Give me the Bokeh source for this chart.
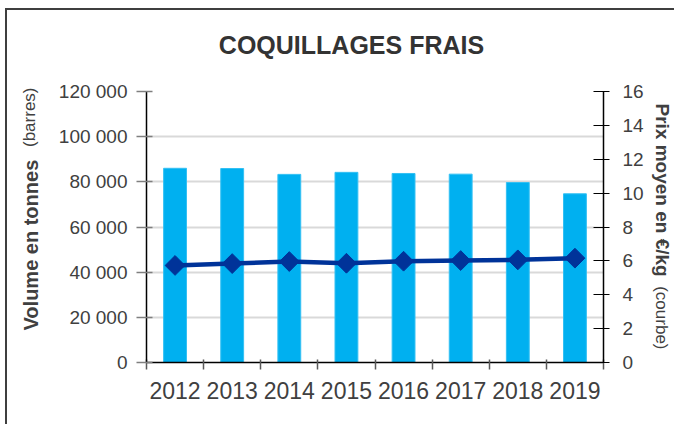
import math
from bokeh.plotting import figure
from bokeh.models import Range1d, LinearAxis, FixedTicker, Label, ColumnDataSource
from bokeh.embed import file_html
from bokeh.resources import INLINE

# ---- data ----
title_text = "COQUILLAGES FRAIS"
years = ["2012", "2013", "2014", "2015", "2016", "2017", "2018", "2019"]
volumes = [86000, 85900, 83300, 84200, 83700, 83400, 79700, 74700]
prices = [5.73, 5.84, 5.96, 5.86, 5.98, 6.02, 6.06, 6.16]
left_ticks = [0, 20000, 40000, 60000, 80000, 100000, 120000]
left_tick_labels = ["0", "20 000", "40 000", "60 000", "80 000", "100 000", "120 000"]
right_ticks = [0, 2, 4, 6, 8, 10, 12, 14, 16]
left_label_bold = "Volume en tonnes"
left_label_regular = "(barres)"
right_label_bold = "Prix moyen en €/kg"
right_label_regular = "(courbe)"

# ---- layout ----
W, H = 674, 424
FL, FT, FW, FH = 146, 91, 457, 271
VMAX, PMAX = 120000, 16
N = len(years)
FONT = "Liberation Sans"
TXT = "#404040"


def xd(px):
    return (px - FL) / FW * N


def yd(py):
    return (FT + FH - py) / FH * VMAX


p = figure(width=W, height=H, output_backend="svg", toolbar_location=None,
           x_range=Range1d(0, N), y_range=Range1d(0, VMAX),
           min_border_left=FL, min_border_top=FT,
           min_border_right=W - FL - FW, min_border_bottom=H - FT - FH)
p.extra_y_ranges = {"price": Range1d(0, PMAX)}
p.outline_line_color = None
p.background_fill_color = "white"
p.border_fill_color = None
p.styles = {"box-shadow": "inset 5px 0 0 0 white, inset 0 8px 0 0 white, "
                          "inset 7px 0 0 0 #3f3f3f, inset 0 10px 0 0 #3f3f3f"}

xs = [i + 0.5 for i in range(N)]
src = ColumnDataSource(dict(x=xs, vol=volumes, price=prices))

p.vbar(x="x", top="vol", width=0.4, source=src, fill_color="#00B0F0", line_color="#33C0F3", line_width=1)
p.line(x="x", y="price", source=src, y_range_name="price", line_color="#003399", line_width=4.5)
p.scatter(x="x", y="price", source=src, y_range_name="price", marker="square", angle=math.pi / 4,
          size=14, fill_color="#003399", line_color="#003399")

# grid
p.xgrid.visible = False
p.ygrid.ticker = FixedTicker(ticks=left_ticks)
p.ygrid.grid_line_color = "#d9d9d9"
p.ygrid.grid_line_width = 2

# x axis
xa = p.xaxis[0]
xa.ticker = FixedTicker(ticks=xs, minor_ticks=list(range(N + 1)))
xa.major_label_overrides = {x: y for x, y in zip(xs, years)}
xa.major_tick_in = 0
xa.major_tick_out = 0
xa.minor_tick_in = 3
xa.minor_tick_out = 7
xa.minor_tick_line_color = "#595959"
xa.minor_tick_line_width = 1.5
xa.axis_line_color = "black"
xa.axis_line_width = 1.5
xa.major_label_standoff = 12
xa.major_label_text_font = FONT
xa.major_label_text_font_size = "23px"
xa.major_label_text_color = TXT

# left axis
ya = p.yaxis[0]
ya.ticker = FixedTicker(ticks=left_ticks)
ya.major_label_overrides = {t: l for t, l in zip(left_ticks, left_tick_labels)}
ya.major_tick_in = 6
ya.major_tick_out = 10
ya.major_tick_line_color = "#7f7f7f"
ya.major_tick_line_width = 1.5
ya.minor_tick_line_color = None
ya.axis_line_color = "black"
ya.axis_line_width = 1.5
ya.major_label_standoff = 9
ya.major_label_text_font = FONT
ya.major_label_text_font_size = "19px"
ya.major_label_text_color = TXT

# right axis
ra = LinearAxis(y_range_name="price", ticker=FixedTicker(ticks=right_ticks))
ra.major_tick_in = 10
ra.major_tick_out = 6
ra.major_tick_line_color = "black"
ra.major_tick_line_width = 1.2
ra.minor_tick_line_color = None
ra.axis_line_color = "black"
ra.axis_line_width = 1.5
ra.major_label_standoff = 13
ra.major_label_text_font = FONT
ra.major_label_text_font_size = "19px"
ra.major_label_text_color = TXT
p.add_layout(ra, "right")

# title (label placed in the top panel so it is not clipped)
p.add_layout(Label(x=xd(351), y=yd(44), text=title_text, text_font=FONT, text_font_style="bold",
                   text_font_size="25px", text_color="#333333", text_align="center",
                   text_baseline="middle"), "above")

# left axis title (bold + regular)
p.add_layout(Label(x=xd(30), y=yd(330), text=left_label_bold, angle=math.pi / 2, text_font=FONT,
                   text_font_style="bold", text_font_size="20px", text_color=TXT,
                   text_align="left", text_baseline="alphabetic"), "left")
p.add_layout(Label(x=xd(29), y=yd(87), text=left_label_regular, angle=math.pi / 2, text_font=FONT,
                   text_font_size="17px", text_color=TXT,
                   text_align="right", text_baseline="alphabetic"), "above")

# right axis title
p.add_layout(Label(x=xd(662), y=yd(103), text=right_label_bold, angle=-math.pi / 2, text_font=FONT,
                   text_font_style="bold", text_font_size="19px", text_color=TXT,
                   text_align="left", text_baseline="alphabetic"), "right")
p.add_layout(Label(x=xd(661), y=yd(349), text=right_label_regular, angle=-math.pi / 2, text_font=FONT,
                   text_font_size="17px", text_color=TXT,
                   text_align="right", text_baseline="alphabetic"), "left")

open("out.html", "w").write(file_html(p, INLINE))
